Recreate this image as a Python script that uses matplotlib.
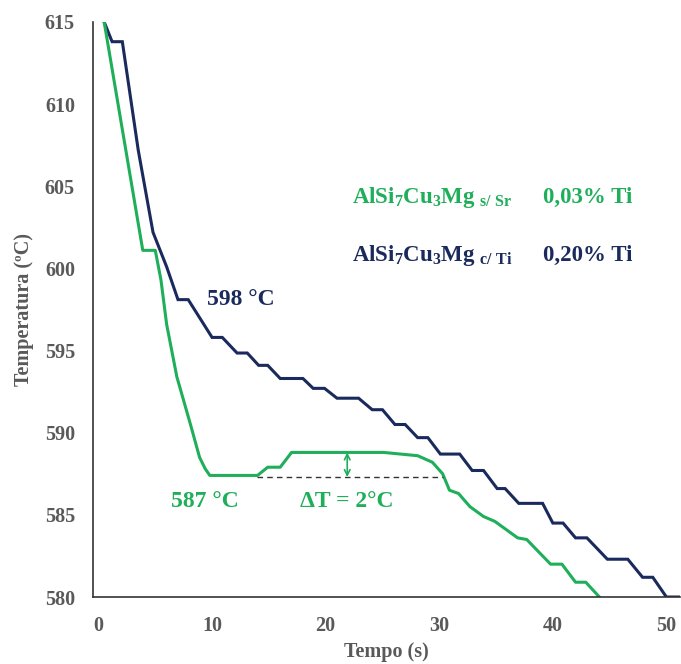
import matplotlib
matplotlib.use("Agg")
import matplotlib.pyplot as plt

plt.rcParams['font.family'] = ['Liberation Serif', 'DejaVu Serif']
plt.rcParams['font.weight'] = 'bold'
plt.rcParams['mathtext.fontset'] = 'custom'
plt.rcParams['mathtext.rm'] = 'Liberation Serif:bold'
plt.rcParams['mathtext.it'] = 'Liberation Serif:bold'
plt.rcParams['mathtext.bf'] = 'Liberation Serif:bold'
plt.rcParams['mathtext.default'] = 'rm'

# AlSi7Cu3Mg c/ Ti  (0,20% Ti) - navy
t_ti = [0.5, 1.2, 2.1, 3.5, 4.8, 6.0, 7.0, 7.9, 10.0, 10.9, 12.2, 13.1, 14.1, 14.9,
        16.0, 18.0, 18.9, 19.9, 21.0, 22.9, 24.1, 25.0, 26.1, 27.0, 28.1, 29.0,
        30.1, 31.8, 32.9, 33.9, 35.1, 35.8, 37.0, 39.1, 40.0, 40.9, 42.0, 43.0,
        44.8, 46.6, 47.9, 48.8, 50.0, 51.2]
T_ti = [615.0, 613.8, 613.8, 607.2, 602.2, 600.1, 598.1, 598.1, 595.8, 595.8,
        594.85, 594.85, 594.1, 594.1, 593.3, 593.3, 592.7, 592.7, 592.1, 592.1,
        591.4, 591.4, 590.5, 590.5, 589.7, 589.7, 588.7, 588.7, 587.7, 587.7,
        586.6, 586.6, 585.7, 585.7, 584.5, 584.5, 583.6, 583.6, 582.3, 582.3,
        581.2, 581.2, 580.0, 580.0]

# AlSi7Cu3Mg s/ Sr  (0,03% Ti) - green
t_sr = [0.5, 3.9, 5.0, 5.5, 6.0, 6.9, 8.1, 8.9, 9.4, 9.8, 14.0, 14.9, 16.0, 17.0,
        25.1, 28.1, 29.4, 30.3, 30.9, 31.7, 32.7, 33.9, 34.9, 36.9, 37.7, 39.8,
        40.8, 42.0, 42.9, 44.1]
T_sr = [615.0, 601.1, 601.1, 599.3, 596.6, 593.4, 590.5, 588.5, 587.8, 587.4, 587.4,
        587.9, 587.9, 588.8, 588.8, 588.6, 588.2, 587.5, 586.5, 586.3, 585.5,
        584.9, 584.6, 583.6, 583.5, 582.0, 582.0, 580.9, 580.9, 580.0]

navy = '#1b2a5c'
green = '#1fae5a'
gray = '#595959'

fig = plt.figure(figsize=(6.81, 6.64), dpi=100)
ax = fig.add_axes([0.1366, 0.1009, 0.862, 0.866])

ax.plot(t_ti, T_ti, color=navy, lw=2.2, solid_joinstyle='miter')
ax.plot(t_sr, T_sr, color=green, lw=2.2, solid_joinstyle='round')

# undercooling marks
ax.plot([14.0, 30.3], [587.3, 587.3], color='#333333', lw=1.0, ls=(0, (4, 3)))
ax.annotate('', xy=(21.9, 587.3), xytext=(21.9, 588.8),
            arrowprops=dict(arrowstyle='<->', color=green, lw=1.2, mutation_scale=10,
                            shrinkA=0, shrinkB=0))

ax.text(12.5, 598.1, '598 °C', color=navy, fontsize=17, ha='center', va='center')
ax.text(9.4, 585.8, '587 °C', color=green, fontsize=17, ha='center', va='center')
ax.text(21.9, 585.8, 'ΔT = 2°C', color=green, fontsize=17, ha='center', va='center')

ax.text(22.3, 604.3, r'AlSi$_7$Cu$_3$Mg $_{s/\ Sr}$', color=green, fontsize=16.5,
        ha='left', va='center')
ax.text(39.1, 604.3, '0,03% Ti', color=green, fontsize=16.5, ha='left', va='center')
ax.text(22.3, 600.8, r'AlSi$_7$Cu$_3$Mg $_{c/\ Ti}$', color=navy, fontsize=16.5,
        ha='left', va='center')
ax.text(39.1, 600.8, '0,20% Ti', color=navy, fontsize=16.5, ha='left', va='center')

ax.set_xlim(-0.48, 51.2)
ax.set_ylim(580, 615)
ax.set_xticks([0, 10, 20, 30, 40, 50])
ax.set_yticks([580, 585, 590, 595, 600, 605, 610, 615])
ax.tick_params(length=0, labelsize=14.5, labelcolor=gray)
ax.tick_params(axis='y', pad=13)
ax.tick_params(axis='x', pad=14)
for lab in ax.get_xticklabels() + ax.get_yticklabels():
    lab.set_fontweight('bold')

ax.spines['top'].set_visible(False)
ax.spines['right'].set_visible(False)
ax.spines['left'].set_color('#333333')
ax.spines['bottom'].set_color('#333333')
ax.spines['left'].set_linewidth(1.2)
ax.spines['bottom'].set_linewidth(1.2)

ax.set_xlabel('Tempo (s)', fontsize=14.5, color=gray, fontweight='bold', labelpad=4)
ax.set_ylabel('Temperatura (ºC)', fontsize=14.5, color=gray, fontweight='bold', labelpad=8)

fig.savefig('out.png', dpi=100)
